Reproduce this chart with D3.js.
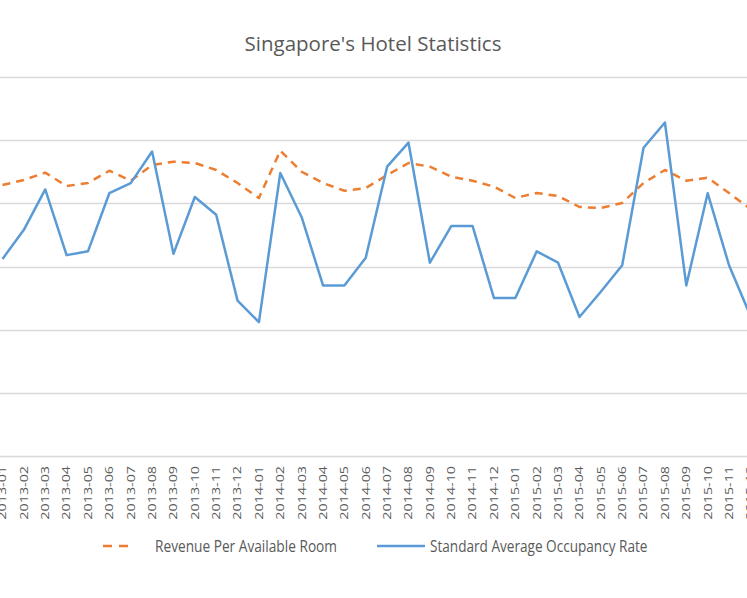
<!DOCTYPE html>
<html>
<head>
<meta charset="utf-8">
<script src="https://cdn.jsdelivr.net/npm/d3@7"></script>
<style>
  html, body { margin: 0; padding: 0; background: #fff; overflow: hidden; }
  svg { display: block; }
  text { font-family: "Open Sans", "Liberation Sans", sans-serif; fill: #595959; }
</style>
</head>
<body>
<svg id="chart" width="747" height="598"></svg>
<script>
// ---- data ----
const months = [
  "2013-01","2013-02","2013-03","2013-04","2013-05","2013-06","2013-07","2013-08","2013-09","2013-10","2013-11","2013-12",
  "2014-01","2014-02","2014-03","2014-04","2014-05","2014-06","2014-07","2014-08","2014-09","2014-10","2014-11","2014-12",
  "2015-01","2015-02","2015-03","2015-04","2015-05","2015-06","2015-07","2015-08","2015-09","2015-10","2015-11","2015-12"
];
// Revenue Per Available Room (hidden secondary axis, 0-300)
const revpar = [
  214.5, 218.5, 224.3, 213.7, 216.1, 225.8, 217.9, 230.3, 233.0, 231.9, 226.4, 216.1,
  204.2, 241.7, 225.0, 216.1, 210.0, 212.1, 222.4, 231.9, 229.0, 221.1, 217.9, 213.2,
  204.2, 208.2, 205.8, 197.1, 196.3, 200.3, 216.1, 226.4, 217.9, 220.3, 208.2, 195.5
];
// Standard Average Occupancy Rate (hidden primary axis, 70-100 %)
const occupancy = [
  85.6, 87.9, 91.1, 85.9, 86.2, 90.8, 91.6, 94.1, 86.0, 90.5, 89.1, 82.3,
  80.6, 92.4, 88.9, 83.5, 83.5, 85.7, 92.9, 94.8, 85.3, 88.2, 88.2, 82.5,
  82.5, 86.2, 85.3, 81.0, 83.0, 85.1, 94.4, 96.4, 83.5, 90.8, 85.1, 81.1
];
const occTicks = [70, 75, 80, 85, 90, 95, 100];
const title = "Singapore's Hotel Statistics";
const seriesNames = ["Revenue Per Available Room", "Standard Average Occupancy Rate"];
const colors = ["#ED7D31", "#5B9BD5"];

// ---- layout ----
const svg = d3.select("#chart");
const plotTop = 77, plotBottom = 456;

const x = d3.scalePoint().domain(months).range([2.5, 750.4]).padding(0);
const yOcc = d3.scaleLinear().domain([70, 100]).range([plotBottom, plotTop]);
const yRev = d3.scaleLinear().domain([0, 300]).range([plotBottom, plotTop]);

// title
svg.append("text")
  .attr("transform", "translate(373,51)")
  .attr("text-anchor", "middle")
  .style("font-size", "20.5px")
  .text(title);

// gridlines
svg.append("g").selectAll("line").data(occTicks).join("line")
  .attr("x1", 0).attr("x2", 747)
  .attr("y1", d => Math.round(yOcc(d)) + 0.5)
  .attr("y2", d => Math.round(yOcc(d)) + 0.5)
  .attr("stroke", "#d9d9d9").attr("stroke-width", 1.3);

// x-axis labels
svg.append("g").selectAll("text").data(months).join("text")
  .attr("transform", d => `translate(${x(d)},466) scale(1,1.3) rotate(-90)`)
  .attr("text-anchor", "end")
  .attr("dy", "0.35em")
  .style("font-size", "11px")
  .text(d => d);

// lines
const revLine = d3.line().x((d, i) => x(months[i])).y(d => yRev(d));
const occLine = d3.line().x((d, i) => x(months[i])).y(d => yOcc(d));

svg.append("path").datum(revpar)
  .attr("d", revLine)
  .attr("fill", "none")
  .attr("stroke", colors[0])
  .attr("stroke-width", 2.5)
  .attr("stroke-dasharray", "8,6")
  .attr("stroke-linejoin", "round");

svg.append("path").datum(occupancy)
  .attr("d", occLine)
  .attr("fill", "none")
  .attr("stroke", colors[1])
  .attr("stroke-width", 2.5)
  .attr("stroke-linejoin", "round");

// legend
const legend = svg.append("g");
legend.append("line")
  .attr("x1", 103).attr("x2", 129).attr("y1", 546).attr("y2", 546)
  .attr("stroke", colors[0]).attr("stroke-width", 2.5).attr("stroke-dasharray", "9,7");
legend.append("text")
  .attr("transform", "translate(155,552) scale(1,1.15)")
  .style("font-size", "13.7px")
  .text(seriesNames[0]);
legend.append("line")
  .attr("x1", 377).attr("x2", 425).attr("y1", 546).attr("y2", 546)
  .attr("stroke", colors[1]).attr("stroke-width", 2.5);
legend.append("text")
  .attr("transform", "translate(430,552) scale(1,1.15)")
  .style("font-size", "13.6px")
  .text(seriesNames[1]);
</script>
</body>
</html>
